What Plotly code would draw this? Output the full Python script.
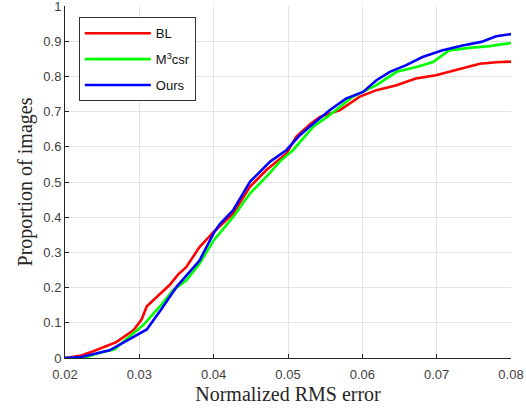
import plotly.graph_objects as go

# Data (x: normalized RMS error, y: proportion of images)
bl_x = [0.020, 0.0220, 0.0238, 0.0269, 0.0292, 0.0296, 0.0303, 0.0310, 0.0327, 0.0341, 0.0352,
        0.0363, 0.0381, 0.0400, 0.0426, 0.0449, 0.0471, 0.0498, 0.0511, 0.0530, 0.0543, 0.0570,
        0.0596, 0.0619, 0.0646, 0.0672, 0.0699, 0.0735, 0.0758, 0.0780, 0.0800]
bl_y = [0.000, 0.006, 0.019, 0.045, 0.079, 0.090, 0.109, 0.147, 0.180, 0.208, 0.237,
        0.258, 0.315, 0.358, 0.410, 0.487, 0.534, 0.581, 0.628, 0.665, 0.685, 0.704,
        0.742, 0.761, 0.775, 0.794, 0.803, 0.822, 0.836, 0.840, 0.842]

m3_x = [0.020, 0.0225, 0.0247, 0.0267, 0.0283, 0.0305, 0.0327, 0.0345, 0.0363, 0.0381, 0.0400,
        0.0426, 0.0449, 0.0471, 0.0490, 0.0507, 0.0534, 0.0556, 0.0587, 0.0619, 0.0646, 0.0673,
        0.0695, 0.0717, 0.0744, 0.0771, 0.0800]
m3_y = [0.000, 0.000, 0.015, 0.025, 0.055, 0.093, 0.145, 0.192, 0.220, 0.268, 0.334,
        0.400, 0.468, 0.515, 0.560, 0.591, 0.657, 0.690, 0.742, 0.775, 0.813, 0.827,
        0.841, 0.874, 0.881, 0.886, 0.895]

ours_x = [0.020, 0.0222, 0.0260, 0.0283, 0.0300, 0.0310, 0.0330, 0.0350, 0.0381, 0.0400, 0.0408,
          0.0426, 0.0449, 0.0476, 0.0498, 0.0516, 0.0529, 0.0556, 0.0578, 0.0601, 0.0619, 0.0637,
          0.0659, 0.0681, 0.0708, 0.0735, 0.0760, 0.0780, 0.0800]
ours_y = [0.000, 0.003, 0.022, 0.050, 0.070, 0.081, 0.140, 0.202, 0.277, 0.355, 0.380,
          0.419, 0.501, 0.558, 0.591, 0.633, 0.657, 0.704, 0.737, 0.756, 0.789, 0.813,
          0.832, 0.855, 0.874, 0.888, 0.898, 0.914, 0.920]

x_ticks = [0.02, 0.03, 0.04, 0.05, 0.06, 0.07, 0.08]
x_tick_labels = ["0.02", "0.03", "0.04", "0.05", "0.06", "0.07", "0.08"]
y_ticks = [0, 0.1, 0.2, 0.3, 0.4, 0.5, 0.6, 0.7, 0.8, 0.9, 1]
y_tick_labels = ["0", "0.1", "0.2", "0.3", "0.4", "0.5", "0.6", "0.7", "0.8", "0.9", "1"]

fig = go.Figure()
fig.add_trace(go.Scatter(x=bl_x, y=bl_y, mode="lines", name="BL", legendgroup="a",
                         line=dict(color="#ff0000", width=2.6)))
fig.add_trace(go.Scatter(x=m3_x, y=m3_y, mode="lines", name="M<sup>3</sup>csr", legendgroup="b",
                         line=dict(color="#00ff00", width=2.6)))
fig.add_trace(go.Scatter(x=ours_x, y=ours_y, mode="lines", name="Ours", legendgroup="c",
                         line=dict(color="#0000ff", width=2.6)))

tick_font = dict(family="Liberation Sans, Arial, sans-serif", size=13, color="#404040")
title_font = dict(family="Liberation Serif, Times New Roman, serif", size=20, color="#262626")

fig.update_layout(
    width=526, height=408,
    margin=dict(l=65, r=15, t=6, b=50, autoexpand=False),
    paper_bgcolor="white", plot_bgcolor="white",
    showlegend=True,
    legend=dict(x=0.031, y=0.968, xanchor="left", yanchor="top",
                bordercolor="#333333", borderwidth=1, bgcolor="white",
                font=dict(family="Liberation Sans, Arial, sans-serif", size=13, color="#111111"),
                itemwidth=66, tracegroupgap=6),
    xaxis=dict(range=[0.02, 0.08], tickvals=x_ticks, ticktext=x_tick_labels,
               showgrid=True, gridcolor="#e3e3e3", gridwidth=1,
               showline=True, linecolor="#262626", linewidth=1,
               ticks="inside", ticklen=4, tickcolor="#262626",
               tickfont=tick_font, zeroline=False, automargin=False,
               ticklabeloverflow="allow", ticklabelstandoff=4,
               title=dict(text="Normalized RMS error", font=title_font, standoff=6)),
    yaxis=dict(range=[0, 1], tickvals=y_ticks, ticktext=y_tick_labels,
               showgrid=True, gridcolor="#e3e3e3", gridwidth=1,
               showline=True, linecolor="#262626", linewidth=1,
               ticks="inside", ticklen=4, tickcolor="#262626",
               tickfont=tick_font, zeroline=False, automargin=False,
               ticklabeloverflow="allow",
               title=dict(text="Proportion of images", font=title_font, standoff=5)),
)

fig.write_html("out.html", config={"displayModeBar": False},
               post_script="document.body.style.margin='0';document.body.style.overflow='hidden';")
